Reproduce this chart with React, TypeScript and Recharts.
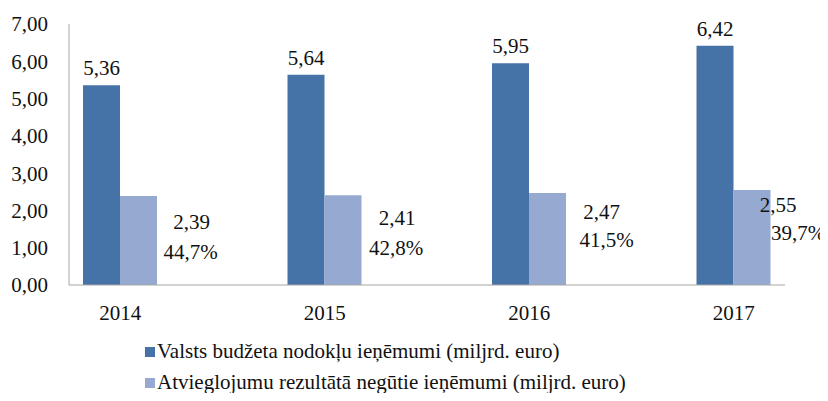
import { BarChart, Bar, XAxis, YAxis, LabelList, Legend } from "recharts";

const years = ["2014", "2015", "2016", "2017"];
const budgetRevenue = [5.36, 5.64, 5.95, 6.42];
const lostRevenue = [2.39, 2.41, 2.47, 2.55];
const lostShare = [44.7, 42.8, 41.5, 39.7];
const yTicks = [0, 1, 2, 3, 4, 5, 6, 7];

const seriesNames = [
  "Valsts budžeta nodokļu ieņēmumi (miljrd. euro)",
  "Atvieglojumu rezultātā negūtie ieņēmumi (miljrd. euro)",
];

const DARK = "#4673a7";
const LIGHT = "#95a9d1";
const FONT = "Liberation Serif";
const FS = 21;

// where Excel put the two-line labels next to the light bars (dx, dy from bar top-centre)
const lostLabelOffsets = [
  [53, 26, 52, 56],
  [54, 23, 53, 53],
  [54, 19, 59, 47],
  [26, 15, 46, 43],
];

const data = years.map((y, i) => ({
  year: y,
  budget: budgetRevenue[i],
  lost: lostRevenue[i],
  share: lostShare[i],
}));

const comma = (v: number, d = 2) => v.toFixed(d).replace(".", ",");

function LostLabel(props: any) {
  const { x, y, width, index } = props;
  const [dx1, dy1, dx2, dy2] = lostLabelOffsets[index];
  const cx = x + width / 2;
  return (
    <g fontSize={FS} fontFamily={FONT} fill="#111">
      <text x={cx + dx1} y={y + dy1} dy="0.33em" textAnchor="middle">
        {comma(lostRevenue[index])}
      </text>
      <text x={cx + dx2} y={y + dy2} dy="0.33em" textAnchor="middle">
        {comma(lostShare[index], 1)}%
      </text>
    </g>
  );
}

function LegendBox() {
  const colors = [DARK, LIGHT];
  return (
    <div style={{ fontFamily: FONT, fontSize: FS, color: "#111", lineHeight: "31px" }}>
      {seriesNames.map((n, i) => (
        <div key={n} style={{ display: "flex", alignItems: "center", whiteSpace: "nowrap" }}>
          <span
            style={{
              display: "inline-block",
              width: 10,
              height: 10,
              background: colors[i],
              marginRight: 2,
            }}
          />
          {n}
        </div>
      ))}
    </div>
  );
}

export default function App() {
  return (
    <div style={{ margin: -8, fontFamily: FONT }}>
      <BarChart
        width={828}
        height={401}
        data={data}
        margin={{ top: 24, right: 43, bottom: 86, left: 0 }}
        barGap={0}
        barSize={37}
      >
        <XAxis
          dataKey="year"
          padding={{ left: -51, right: -51 }}
          tickLine={false}
          axisLine={{ stroke: "#a6a6a6" }}
          tick={{ fontSize: FS, fontFamily: FONT, fill: "#111" }}
          tickMargin={14}
          height={30}
        />
        <YAxis
          domain={[0, 7]}
          ticks={yTicks}
          interval={0}
          width={69}
          tickLine={false}
          axisLine={{ stroke: "#a6a6a6" }}
          tick={{ fontSize: FS, fontFamily: FONT, fill: "#111" }}
          tickMargin={15}
          tickFormatter={(v: number) => comma(v)}
        />
        <Legend
          layout="vertical"
          align="center"
          verticalAlign="middle"
          wrapperStyle={{ left: 145, top: 336, width: 640, height: 62 }}
          content={() => <LegendBox />}
        />
        <Bar dataKey="budget" fill={DARK} isAnimationActive={false}>
          <LabelList
            dataKey="budget"
            position="top"
            offset={10}
            formatter={(v: any) => comma(Number(v))}
            fontSize={FS}
            fontFamily={FONT}
            fill="#111"
          />
        </Bar>
        <Bar dataKey="lost" fill={LIGHT} isAnimationActive={false}>
          <LabelList dataKey="lost" content={LostLabel} />
        </Bar>
      </BarChart>
    </div>
  );
}
